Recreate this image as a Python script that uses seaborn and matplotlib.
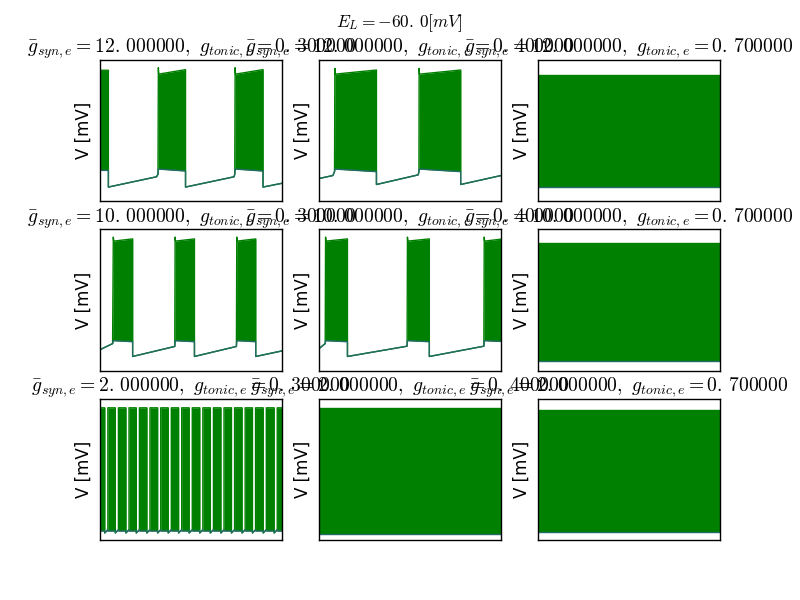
import matplotlib
matplotlib.use("Agg")
import matplotlib.pyplot as plt
import seaborn as sns
import numpy as np

# ---------------- data (time in ms, membrane voltage in mV) ----------------
E_L = -60.0
g_syn_rows = [12.0, 10.0, 2.0]
g_tonic_cols = [0.3, 0.4, 0.7]

# Envelope of each voltage trace: upper / lower edge of the dense spiking,
# equal to each other during the silent (interburst) phases.
p1_t = [0, 46, 46, 310, 318, 320, 322, 469, 469, 735, 739, 741, 743, 894, 894, 1000]
p1_up = [22, 22, -69, -61, -59, 24, 19, 22.5, -69, -61, -59, 24, 19, 22.5, -69, -66]
p1_lo = [-56, -56, -69, -61, -59, -55, -55, -56.5, -69, -61, -59, -55, -55, -56.5, -69, -66]

p2_t = [0, 77, 86, 88, 90, 316, 316, 545, 549, 550, 552, 778, 778, 1000]
p2_up = [-62.4, -60, -57, 23.5, 19, 22.2, -67, -59.5, -57, 23.5, 19, 22.2, -67, -60]
p2_lo = [-62.4, -60, -57, -55, -55, -57, -67, -59.5, -57, -55, -55, -57, -67, -60]

p3_t = [0, 1000]
p3_up = [18.3, 18.3]
p3_lo = [-69, -69]

p4_t = [0, 69, 73, 75, 179, 179, 410, 412, 414, 518, 518, 748, 750, 752, 854, 854, 1000]
p4_up = [-63.7, -59, 24, 20.9, 22.6, -69, -61.2, 24, 20.9, 22.6, -69, -61.2, 24, 20.9, 22.6, -69, -64.6]
p4_lo = [-63.7, -59, -56.7, -56.7, -57.5, -69, -61.2, -56.7, -56.7, -57.5, -69, -61.2, -56.7, -56.7, -57.5, -69, -64.6]

p5_t = [0, 35, 37, 39, 157, 157, 484, 486, 488, 606, 606, 905, 907, 909, 1000]
p5_up = [-63, -59, 24, 20.9, 22.6, -69, -61, 24, 20.9, 22.6, -69, -61, 24, 20.9, 22.4]
p5_lo = [-63, -59, -56.7, -56.7, -57.5, -69, -61, -56.7, -56.7, -57.5, -69, -61, -56.7, -56.7, -57.3]

p6_t = [0, 1000]
p6_up = [19.8, 19.8]
p6_lo = [-72.3, -72.3]

# tonic-like bursting: start time of each interburst gap (ms) and gap length
p7_gap_start = [26, 84, 142, 199, 257, 316, 374, 431, 489, 547, 605, 663, 721, 779, 836, 895, 955]
p7_gap_len = 17
p7_burst_top = 23
p7_burst_bot = -73
p7_gap_v0 = -74.5
p7_gap_v1 = -72

p8_t = [0, 1000]
p8_up = [23, 23]
p8_lo = [-75, -75]

p9_t = [0, 1000]
p9_up = [21.5, 21.5]
p9_lo = [-73.8, -73.8]

v_limits = (-80, 30)
t_limits = (0, 1000)

# build panel 7 envelope from the gap list
p7_t, p7_up, p7_lo = [0], [p7_burst_top], [p7_burst_bot]
for gs in p7_gap_start:
    p7_t += [gs, gs, gs + p7_gap_len, gs + p7_gap_len]
    p7_up += [p7_burst_top, p7_gap_v0, p7_gap_v1, p7_burst_top]
    p7_lo += [p7_burst_bot, p7_gap_v0, p7_gap_v1, p7_burst_bot]
p7_t.append(1000); p7_up.append(p7_burst_top); p7_lo.append(p7_burst_bot)

panels = [
    [(p1_t, p1_up, p1_lo), (p2_t, p2_up, p2_lo), (p3_t, p3_up, p3_lo)],
    [(p4_t, p4_up, p4_lo), (p5_t, p5_up, p5_lo), (p6_t, p6_up, p6_lo)],
    [(p7_t, p7_up, p7_lo), (p8_t, p8_up, p8_lo), (p9_t, p9_up, p9_lo)],
]


def mnum(fmt, v):
    """number for mathtext, with the old-style small space after the decimal point"""
    return (fmt % v).replace(".", r".\,")


# ---------------- plotting ----------------
plt.style.use("classic")
plt.rcParams["figure.facecolor"] = "white"
plt.rcParams["savefig.facecolor"] = "white"
plt.rcParams["mathtext.fontset"] = "cm"

fig, axes = plt.subplots(3, 3, figsize=(8, 6), dpi=100)
fig.subplots_adjust(left=0.125, right=0.9, bottom=0.1, top=0.9, wspace=0.2, hspace=0.2)

for i, gs in enumerate(g_syn_rows):
    for j, gt in enumerate(g_tonic_cols):
        ax = axes[i, j]
        t, up, lo = panels[i][j]
        t = np.asarray(t, float); up = np.asarray(up, float); lo = np.asarray(lo, float)
        ax.fill_between(t, lo, up, color="#008000", linewidth=0)
        sns.lineplot(x=t, y=up, ax=ax, color="#008000", linewidth=1.0,
                     estimator=None, sort=False)
        sns.lineplot(x=t, y=lo, ax=ax, color="#236b66", linewidth=1.0,
                     estimator=None, sort=False)
        ax.set_xlim(*t_limits)
        ax.set_ylim(*v_limits)
        ax.set_xticks([])
        ax.set_yticks([])
        ax.set_xlabel("")
        ax.set_ylabel("V [mV]", fontsize=12)
        ax.set_title(r"$\bar{g}_{syn,e} = %s,\ g_{tonic,e} = %s$"
                     % (mnum("%f", gs), mnum("%f", gt)), fontsize=14.1)

fig.suptitle(r"$E_L = %s [mV]$" % mnum("%.1f", E_L), fontsize=12.5)
fig.savefig("out.png", dpi=100)
